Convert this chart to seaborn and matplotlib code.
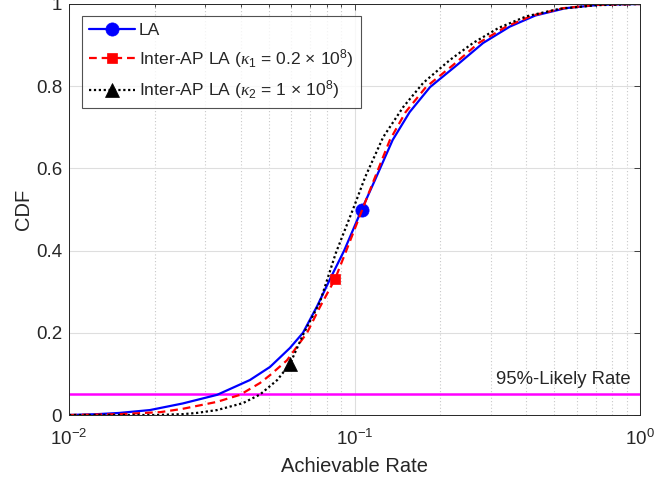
import numpy as np
import pandas as pd
import matplotlib
matplotlib.use("Agg")
import matplotlib.pyplot as plt
import seaborn as sns
from matplotlib.ticker import LogLocator

# ---- data ----
la_rate = [0.010, 0.0125, 0.015, 0.0192, 0.025, 0.033, 0.043, 0.0506, 0.0594, 0.066,
           0.074, 0.082, 0.092, 0.106, 0.118, 0.136, 0.156, 0.184, 0.229, 0.282,
           0.35, 0.43, 0.55, 0.72, 1.0]
la_cdf = [0.000, 0.002, 0.005, 0.012, 0.028, 0.049, 0.085, 0.117, 0.163, 0.200,
          0.265, 0.330, 0.400, 0.500, 0.572, 0.669, 0.737, 0.798, 0.852, 0.905,
          0.945, 0.972, 0.990, 0.998, 1.000]
la_marker = 13

k1_rate = [0.010, 0.015, 0.0209, 0.025, 0.033, 0.0397, 0.0467, 0.0506, 0.058, 0.0682,
           0.0757, 0.0855, 0.093, 0.1065, 0.117, 0.133, 0.151, 0.178, 0.222, 0.272,
           0.34, 0.42, 0.54, 0.71, 1.0]
k1_cdf = [0.000, 0.002, 0.007, 0.015, 0.032, 0.049, 0.078, 0.097, 0.133, 0.200,
          0.263, 0.331, 0.395, 0.500, 0.572, 0.669, 0.737, 0.798, 0.852, 0.905,
          0.945, 0.972, 0.990, 0.998, 1.000]
k1_marker = 11

k2_rate = [0.010, 0.020, 0.025, 0.028, 0.033, 0.0407, 0.0467, 0.0536, 0.0594, 0.066,
           0.0757, 0.086, 0.100, 0.109, 0.126, 0.148, 0.174, 0.216, 0.260, 0.32,
           0.40, 0.52, 0.70, 1.0]
k2_cdf = [0.000, 0.000, 0.002, 0.005, 0.012, 0.029, 0.050, 0.085, 0.124, 0.195,
          0.275, 0.394, 0.510, 0.579, 0.676, 0.749, 0.808, 0.864, 0.905, 0.942,
          0.970, 0.988, 0.997, 1.000]
k2_marker = 8

labels = ["LA",
          r"Inter-AP LA ($\mathit{\kappa}_1$ = 0.2 $\times$ 10$^8$)",
          r"Inter-AP LA ($\mathit{\kappa}_2$ = 1 $\times$ 10$^8$)"]
likely_level = 0.05
likely_text = "95%-Likely Rate"
x_label = "Achievable Rate"
y_label = "CDF"
y_ticks = [0, 0.2, 0.4, 0.6, 0.8, 1]
y_ticklabels = ["0", "0.2", "0.4", "0.6", "0.8", "1"]

# ---- style ----
sns.set_style("white")
plt.rcParams["font.family"] = ["Liberation Sans", "DejaVu Sans"]
plt.rcParams["mathtext.fontset"] = "custom"
plt.rcParams["mathtext.rm"] = "Liberation Sans"
plt.rcParams["mathtext.it"] = "Liberation Serif:italic"
plt.rcParams["mathtext.default"] = "regular"
dark = "#262626"

fig = plt.figure(figsize=(6.54, 4.84), dpi=100)
ax = fig.add_axes([69 / 654, 1 - 415 / 484, 571 / 654, 411 / 484])

series = [
    (la_rate, la_cdf, la_marker, dict(color="#0000ff", linestyle="-", marker="o", markersize=9.5)),
    (k1_rate, k1_cdf, k1_marker, dict(color="#ff0000", linestyle=(0, (3.5, 2.2)), marker="s", markersize=7.5)),
    (k2_rate, k2_cdf, k2_marker, dict(color="#000000", linestyle=(0, (1, 1.2)), marker="^", markersize=9.5)),
]
for (xr, yc, mi, st), lab in zip(series, labels):
    df = pd.DataFrame({"rate": xr, "cdf": yc})
    sns.lineplot(data=df, x="rate", y="cdf", ax=ax, sort=False, estimator=None,
                 label=lab, linewidth=1.6, markevery=[mi],
                 markeredgecolor=st["color"], markerfacecolor=st["color"],
                 markeredgewidth=0.5, **st)

ax.axhline(likely_level, color="#ff00ff", linewidth=1.8, zorder=1.5)
ax.text(0.925, likely_level + 0.016, likely_text, ha="right", va="bottom",
        fontsize=13.3, color=dark)

ax.set_xscale("log")
ax.set_xlim(0.01, 1)
ax.set_ylim(0, 1)
ax.set_yticks(y_ticks)
ax.set_yticklabels(y_ticklabels)
ax.xaxis.set_major_locator(LogLocator(base=10, numticks=5))
ax.xaxis.set_minor_locator(LogLocator(base=10, subs=np.arange(2, 10), numticks=20))

ax.grid(True, which="major", color="#dedede", linewidth=0.8, linestyle="-")
ax.grid(True, which="minor", axis="x", color="#c8c8c8", linewidth=0.8, linestyle=(0, (1, 2)))
ax.set_axisbelow(True)

ax.tick_params(which="both", direction="in", top=True, right=True, colors=dark,
               labelsize=13.5, width=0.6)
ax.tick_params(which="major", length=4.5)
ax.tick_params(axis="y", which="major", pad=5)
ax.tick_params(axis="x", which="major", pad=10)
ax.tick_params(which="minor", length=2.5)
for s in ax.spines.values():
    s.set_color(dark)
    s.set_linewidth(0.7)

ax.set_xlabel(x_label, fontsize=14.5, color=dark, labelpad=6)
ax.set_ylabel(y_label, fontsize=14.5, color=dark, labelpad=2)

leg = ax.legend(loc="upper left", bbox_to_anchor=(0.0228, 0.971), borderaxespad=0,
                fontsize=12.6, frameon=True, fancybox=False, edgecolor=dark,
                handlelength=2.6, handletextpad=0.25, labelspacing=0.5,
                borderpad=0.4)
leg.get_frame().set_linewidth(0.8)

fig.savefig("out.png", dpi=100)
